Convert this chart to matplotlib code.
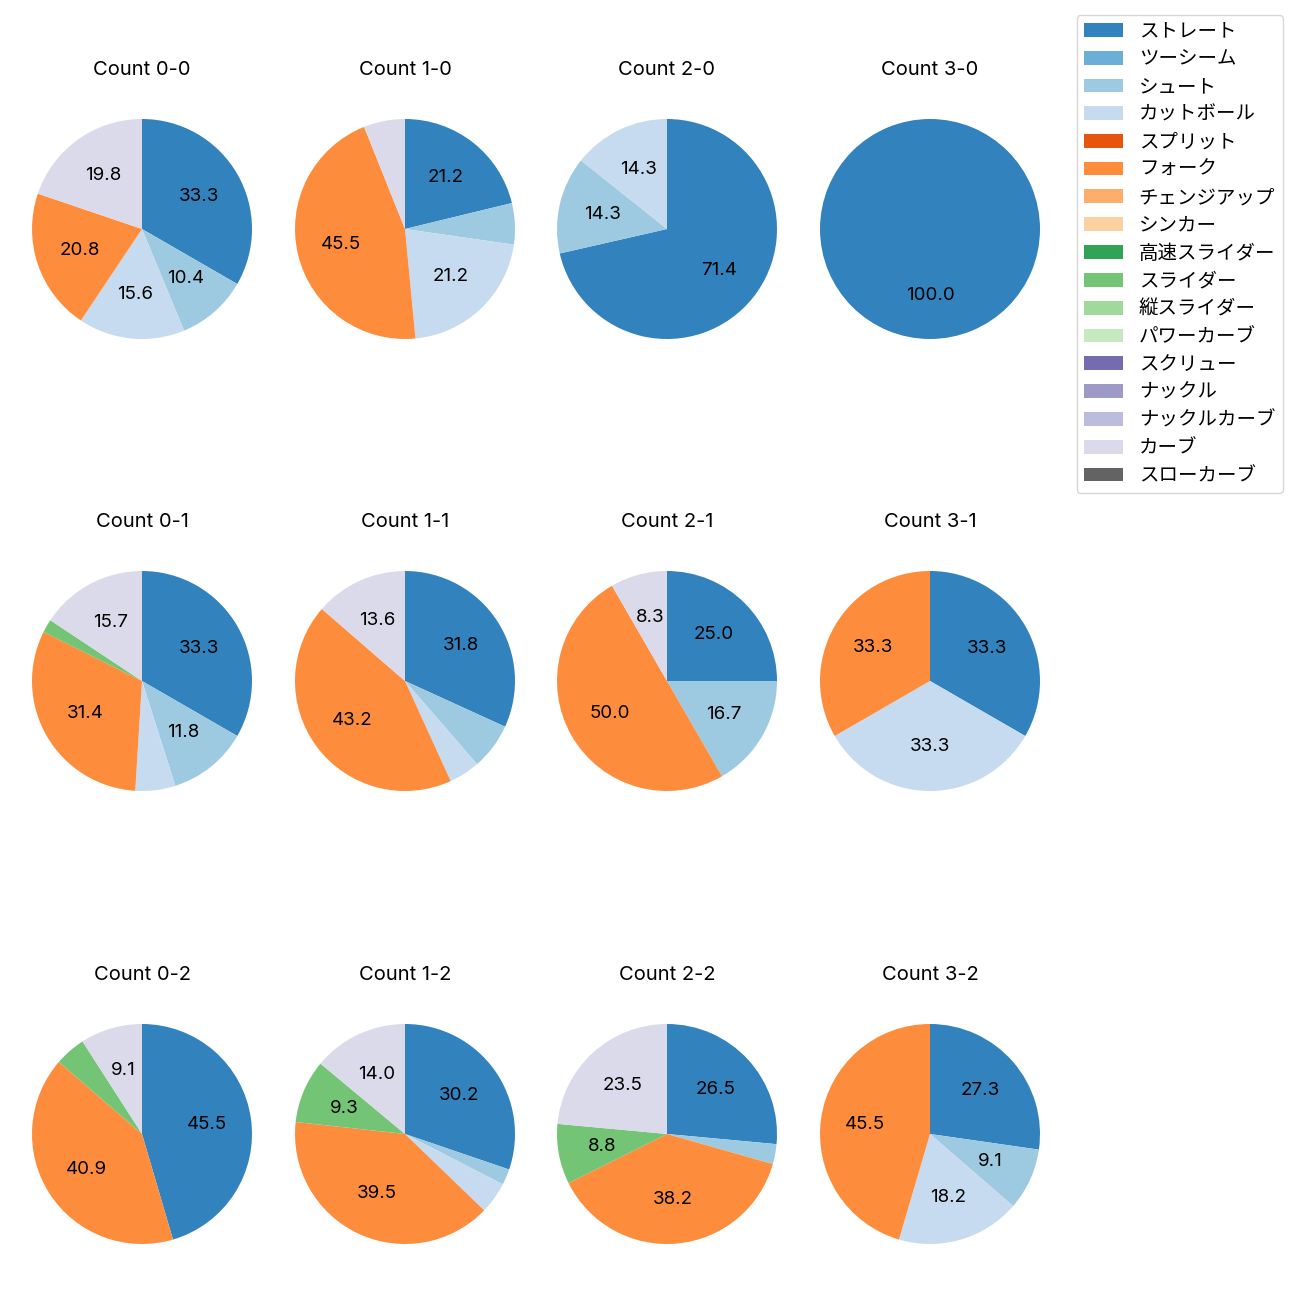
import numpy as np
import matplotlib.pyplot as plt
from matplotlib.patches import Patch

plt.rcParams['font.family'] = ['Inter', 'Noto Sans CJK JP', 'DejaVu Sans']

pitch_names = ['ストレート', 'ツーシーム', 'シュート', 'カットボール', 'スプリット', 'フォーク',
               'チェンジアップ', 'シンカー', '高速スライダー', 'スライダー', '縦スライダー',
               'パワーカーブ', 'スクリュー', 'ナックル', 'ナックルカーブ', 'カーブ', 'スローカーブ']

# pitch counts per ball-strike count (order as pitch_names)
#                 St Tw Sh Ct Sp Fk Ch Si HS Sl VS PC Sc Kn KC Cv SC
count_0_0 = [32, 0, 10, 15, 0, 20, 0, 0, 0, 0, 0, 0, 0, 0, 0, 19, 0]
count_1_0 = [7, 0, 2, 7, 0, 15, 0, 0, 0, 0, 0, 0, 0, 0, 0, 2, 0]
count_2_0 = [5, 0, 1, 1, 0, 0, 0, 0, 0, 0, 0, 0, 0, 0, 0, 0, 0]
count_3_0 = [1, 0, 0, 0, 0, 0, 0, 0, 0, 0, 0, 0, 0, 0, 0, 0, 0]
count_0_1 = [17, 0, 6, 3, 0, 16, 0, 0, 0, 1, 0, 0, 0, 0, 0, 8, 0]
count_1_1 = [14, 0, 3, 2, 0, 19, 0, 0, 0, 0, 0, 0, 0, 0, 0, 6, 0]
count_2_1 = [3, 0, 2, 0, 0, 6, 0, 0, 0, 0, 0, 0, 0, 0, 0, 1, 0]
count_3_1 = [1, 0, 0, 1, 0, 1, 0, 0, 0, 0, 0, 0, 0, 0, 0, 0, 0]
count_0_2 = [10, 0, 0, 0, 0, 9, 0, 0, 0, 1, 0, 0, 0, 0, 0, 2, 0]
count_1_2 = [13, 0, 1, 2, 0, 17, 0, 0, 0, 4, 0, 0, 0, 0, 0, 6, 0]
count_2_2 = [9, 0, 1, 0, 0, 13, 0, 0, 0, 3, 0, 0, 0, 0, 0, 8, 0]
count_3_2 = [3, 0, 1, 2, 0, 5, 0, 0, 0, 0, 0, 0, 0, 0, 0, 0, 0]

grid = [
    [('Count 0-0', count_0_0), ('Count 1-0', count_1_0), ('Count 2-0', count_2_0), ('Count 3-0', count_3_0)],
    [('Count 0-1', count_0_1), ('Count 1-1', count_1_1), ('Count 2-1', count_2_1), ('Count 3-1', count_3_1)],
    [('Count 0-2', count_0_2), ('Count 1-2', count_1_2), ('Count 2-2', count_2_2), ('Count 3-2', count_3_2)],
]

colors = plt.cm.tab20c(np.arange(17))

fig = plt.figure(figsize=(13, 13), dpi=100)

W, H = 1300, 1300
size = 275
cx = [142, 405, 667, 930]
cy = [229, 681, 1134]

for r, row in enumerate(grid):
    for c, (title, vals) in enumerate(row):
        ax = fig.add_axes([(cx[c] - size / 2) / W, 1 - (cy[r] + size / 2) / H, size / W, size / H])
        vals = np.array(vals, dtype=float)
        mask = vals > 0
        ax.pie(vals[mask], colors=colors[mask], startangle=90, counterclock=False,
               autopct=lambda p: f'{p:.1f}' if p >= 7 else '',
               textprops={'fontsize': 13.5})
        ax.set_title(title, fontsize=14.5, pad=12)

handles = [Patch(facecolor=colors[i], label=pitch_names[i]) for i in range(17)]
fig.legend(handles=handles, loc='upper right', bbox_to_anchor=(1283 / W, 1 - 15 / H),
           borderaxespad=0, fontsize=14, labelspacing=0.5)

fig.savefig('out.png')
